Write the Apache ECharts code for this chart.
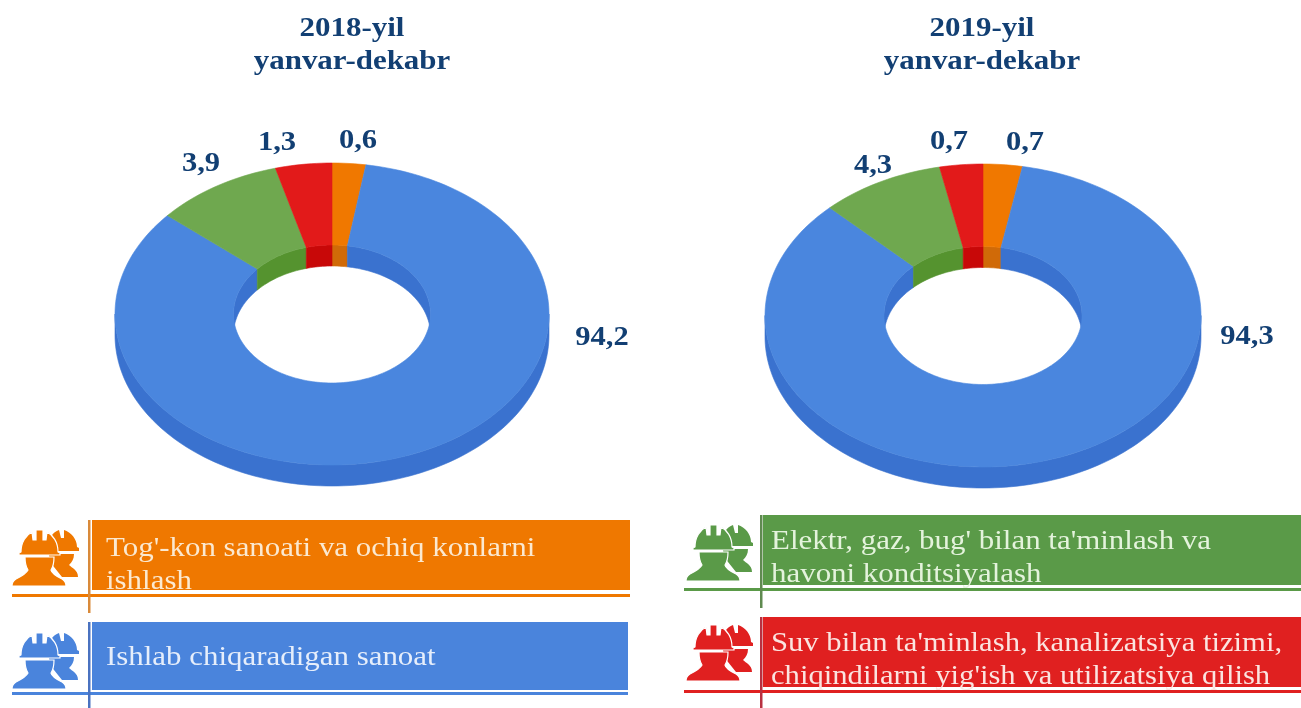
<!DOCTYPE html>
<html>
<head>
<meta charset="utf-8">
<style>html,body{margin:0;padding:0;background:#fff}#c{width:1301px;height:708px}</style>
<script src="https://cdn.jsdelivr.net/npm/echarts@6/dist/echarts.min.js"></script>
</head>
<body>
<div id="c"></div>
<script>
// Slice order is clockwise from the top of the ring.
const categories = ["Tog'-kon sanoati", "Ishlab chiqaradigan sanoat", "Elektr, gaz, bug'", "Suv bilan ta'minlash"];
// Printed labels, as they appear in the reference.
const labels2018 = ["0,6", "94,2", "3,9", "1,3"];
const labels2019 = ["0,7", "94,3", "4,3", "0,7"];
// Drawn slice shares (%), read from the ring's geometry: the printed labels are not to scale in the reference.
const shares2018 = [2.5, 83.8, 9.5, 4.2];
const shares2019 = [2.9, 84.7, 9.2, 3.2];
const titles2018 = ["2018-yil", "yanvar-dekabr"];
const titles2019 = ["2019-yil", "yanvar-dekabr"];
const legendOrange = ["Tog'-kon sanoati va ochiq konlarni", "ishlash"];
const legendBlue = ["Ishlab chiqaradigan sanoat"];
const legendGreen = ["Elektr, gaz, bug' bilan ta'minlash va", "havoni konditsiyalash"];
const legendRed = ["Suv bilan ta'minlash, kanalizatsiya tizimi,", "chiqindilarni yig'ish va utilizatsiya qilish"];

const topColors = ['#f07800', '#4a86de', '#6fa84f', '#e21a1a'];
const wallColors = ['#d06a08', '#3a72cf', '#55932f', '#c80808'];
const TEXT_BLUE = '#123f73';
const SERIF = '"Liberation Serif","Times New Roman",serif';

function ringSeries(shares, labels, g) {
  const sum = shares.reduce((a, b) => a + b, 0);
  return {
    type: 'custom',
    coordinateSystem: 'none',
    silent: true,
    animation: false,
    data: shares.map((v, i) => [v, i]),
    renderItem(params, api) {
      const value = api.value(0), idx = api.value(1);
      let before = 0;
      for (let k = 0; k < idx; k++) before += shares[k];
      const a0 = before / sum * 360, a1 = (before + value) / sum * 360;
      const pt = (rx, ry, deg, dz) => {
        const t = deg * Math.PI / 180;
        return [g.cx + rx * Math.sin(t), g.cy - ry * Math.cos(t) + dz];
      };
      const arc = (rx, ry, s, e, dz) => {
        const out = [], n = Math.max(2, Math.ceil(Math.abs(e - s) / 1.5));
        for (let j = 0; j <= n; j++) out.push(pt(rx, ry, s + (e - s) * j / n, dz));
        return out;
      };
      const poly = (points, fill) => ({
        type: 'polygon', shape: { points },
        style: { fill, stroke: fill, lineWidth: 0.6 }
      });
      const children = [];
      // Inner wall: far side of the hole (angles within 270..360 and 0..90).
      [[-90, 90], [270, 450]].forEach(([lo, hi]) => {
        const s = Math.max(a0, lo), e = Math.min(a1, hi);
        if (e > s) children.push(poly(
          arc(g.irx, g.iry, s, e, 0).concat(arc(g.irx, g.iry, e, s, g.depth)), wallColors[idx]));
      });
      // Outer wall: near side (angles within 90..270).
      const s = Math.max(a0, 90), e = Math.min(a1, 270);
      if (e > s) children.push(poly(
        arc(g.rx, g.ry, s, e, 0).concat(arc(g.rx, g.ry, e, s, g.depth)), wallColors[idx]));
      // Top face.
      children.push(poly(
        arc(g.rx, g.ry, a0, a1, 0).concat(arc(g.irx, g.iry, a1, a0, 0)), topColors[idx]));
      // Printed label.
      const lp = g.labelPos[idx];
      children.push({
        type: 'text', x: lp[0], y: lp[1], scaleX: 1.09, z2: 10,
        style: { text: labels[idx], fill: TEXT_BLUE, font: 'bold 28px ' + SERIF, align: 'center', verticalAlign: 'middle' }
      });
      return { type: 'group', children };
    }
  };
}

const geo2018 = { cx: 332, cy: 314, rx: 217, ry: 151, irx: 98.5, iry: 69, depth: 21,
  labelPos: [[358, 141], [602, 338], [201, 164], [277, 143]] };
const geo2019 = { cx: 983, cy: 315.5, rx: 218, ry: 151.5, irx: 99, iry: 69, depth: 21,
  labelPos: [[1025, 143], [1247, 337], [873, 166], [949, 142]] };

function textEl(str, x, y, font, fill, scaleX, align) {
  return { type: 'text', x, y, scaleX, z: 20,
    style: { text: str, font, fill, textAlign: align, textVerticalAlign: 'middle' } };
}
function titleEls(lines, cx) {
  return [textEl(lines[0], cx, 29, 'bold 28px ' + SERIF, TEXT_BLUE, 1.105, 'center'),
          textEl(lines[1], cx, 62, 'bold 28px ' + SERIF, TEXT_BLUE, 1.105, 'center')];
}
// Worker icon, two hard-hat figures, drawn in a 66x56 local box.
const BACK = 'M36 18 C36 8 41 2 47 0 L49 8 L52 8 L52 0 C59 2 65 9 65 17 L67 18 L67 21 L44 21 L44 24 L62 24 C62 29 60 32 57 35 C60 38 66 40 66 47 L50 47 L38 32 Z';
const FRONT = 'M9 22 C9 12 14 5 20 2 L21 10 L24 10 L24 0 L31 0 L31 10 L34 10 L35 2 C41 5 46 12 46 22 L48 23 L48 25 L7 25 L7 23 Z M13 27 L42 27 C42 33 41 37 39 40 C40 44 46 47 50 49 C53 51 54 54 54 56 L0 56 C0 54 1 51 4 49 C8 47 14 44 16 40 C14 37 13 33 13 27 Z';
const iconPlaces = [[12, 530, '#ef7800'], [12, 633, '#4a84dc'], [686, 525, '#5a9a48'], [686, 625, '#e02020']];
const iconSeries = {
  type: 'custom',
  coordinateSystem: 'none',
  silent: true,
  animation: false,
  z: 5,
  data: iconPlaces.map((p, i) => [i]),
  renderItem(params, api) {
    const [x, y, color] = iconPlaces[api.value(0)];
    return { type: 'group', x, y, children: [
      { type: 'path', shape: { pathData: BACK }, style: { fill: color } },
      { type: 'path', shape: { pathData: FRONT }, style: { fill: color, stroke: '#fff', lineWidth: 1.2 } }
    ] };
  }
};
function legendEls(o) {
  const els = [
    { type: 'rect', z: 10, shape: { x: o.rx0, y: o.y0, width: o.rx1 - o.rx0, height: o.y1 - o.y0 }, style: { fill: o.fill } },
    { type: 'rect', z: 11, shape: { x: o.hx0, y: o.hy, width: o.rx1 - o.hx0, height: 3 }, style: { fill: o.fill } },
    { type: 'rect', z: 11, shape: { x: o.vx, y: o.y0, width: 2.5, height: o.vy1 - o.y0 }, style: { fill: o.line } }
  ];
  o.lines.forEach((l, i) => els.push(textEl(l, o.tx, o.ty[i], '27px ' + SERIF, o.text, o.sx, 'left')));
  return els;
}

const graphics = [].concat(
  titleEls(titles2018, 352), titleEls(titles2019, 982),
  legendEls({ rx0: 92, rx1: 630, y0: 520, y1: 590, hx0: 12, hy: 594, vx: 88, vy1: 613, fill: '#ef7800', line: '#d98a3a',
    lines: legendOrange, ty: [549, 582], tx: 106, sx: 1.145, text: '#fbe9d0' }),
  legendEls({ rx0: 92, rx1: 628, y0: 622, y1: 690, hx0: 12, hy: 692, vx: 88, vy1: 708, fill: '#4a84dc', line: '#4a72c0',
    lines: legendBlue, ty: [658], tx: 106, sx: 1.145, text: '#e6eefb' }),
  legendEls({ rx0: 763, rx1: 1301, y0: 515, y1: 585, hx0: 684, hy: 588, vx: 760, vy1: 608, fill: '#5a9a48', line: '#5f8a50',
    lines: legendGreen, ty: [542, 575], tx: 771, sx: 1.145, text: '#e4f3dc' }),
  legendEls({ rx0: 763, rx1: 1301, y0: 617, y1: 687, hx0: 684, hy: 690, vx: 760, vy1: 708, fill: '#e02020', line: '#b83040',
    lines: legendRed, ty: [644, 677], tx: 771, sx: 1.135, text: '#fbe4e0' })
);

const chart = echarts.init(document.getElementById('c'), null, { renderer: 'canvas' });
chart.setOption({
  backgroundColor: '#fff',
  animation: false,
  series: [ringSeries(shares2018, labels2018, geo2018), ringSeries(shares2019, labels2019, geo2019), iconSeries],
  graphic: { elements: graphics }
});
</script>
</body>
</html>
